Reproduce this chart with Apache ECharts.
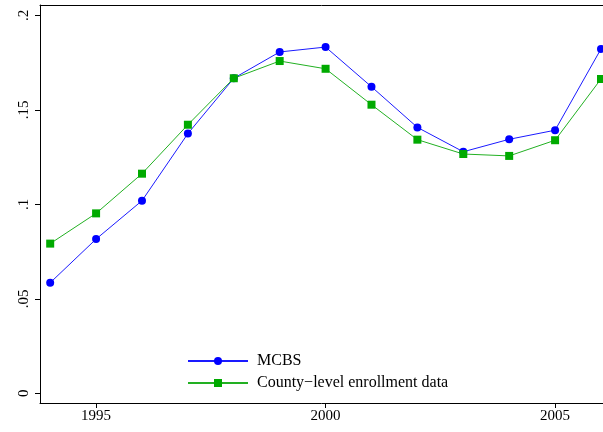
<!DOCTYPE html>
<html>
<head>
<meta charset="utf-8">
<script src="https://cdn.jsdelivr.net/npm/echarts@6/dist/echarts.min.js"></script>
<style>
  html, body { margin: 0; padding: 0; background: #fff; }
  #chart { width: 603px; height: 432px; }
</style>
</head>
<body>
<div id="chart"></div>
<script>
var years = [1994, 1995, 1996, 1997, 1998, 1999, 2000, 2001, 2002, 2003, 2004, 2005, 2006];
var mcbs = [0.0585, 0.0816, 0.1019, 0.1374, 0.1667, 0.1806, 0.1832, 0.1622, 0.1407, 0.1278, 0.1344, 0.1392, 0.1822];
var county = [0.0792, 0.0952, 0.1162, 0.1421, 0.1667, 0.1758, 0.1717, 0.1527, 0.1342, 0.1266, 0.1256, 0.1339, 0.1663];
var xTicks = [1995, 2000, 2005];
var yTicks = [0, 0.05, 0.1, 0.15, 0.2];
var yTickLabels = ['0', '.05', '.1', '.15', '.2'];

// pair years with values for the value axis
function pairs(vals) {
  return years.map(function (y, i) { return [y, vals[i]]; });
}

var serif = 'Liberation Serif';
var xMin = 1993.778, xMax = 2006.044; // plot runs off the right edge

var option = {
  animation: false,
  grid: { left: 40, top: 5, bottom: 29, right: 0 },
  legend: {
    orient: 'vertical',
    left: 187, top: 353, padding: 0,
    itemWidth: 60, itemHeight: 10, itemGap: 6,
    textStyle: { fontFamily: serif, fontSize: 16, color: '#000', lineHeight: 16, padding: [0, 0, 0, 4] },
    data: ['MCBS', 'County\u2212level enrollment data']
  },
  xAxis: [{
    type: 'value',
    min: xMin, max: xMax,
    axisLine: { onZero: false, lineStyle: { color: '#000', width: 1 } },
    axisTick: { length: 5, lineStyle: { color: '#000' }, customValues: xTicks },
    axisLabel: {
      customValues: xTicks, color: '#000', fontFamily: serif, fontSize: 15, margin: 6,
      formatter: function (v) { return String(Math.round(v)); }
    },
    splitLine: { show: false }
  }, {
    // top frame line only
    type: 'value', position: 'top',
    min: xMin, max: xMax,
    axisLine: { show: true, onZero: false, lineStyle: { color: '#000', width: 1 } },
    axisTick: { show: false }, axisLabel: { show: false }, splitLine: { show: false }
  }],
  yAxis: {
    type: 'value',
    min: -0.00513, max: 0.20545,
    axisLine: { show: true, onZero: false, lineStyle: { color: '#000', width: 1 } },
    axisTick: { show: true, length: 5, lineStyle: { color: '#000' }, customValues: yTicks },
    axisLabel: {
      customValues: yTicks, rotate: 90, color: '#000', fontFamily: serif, fontSize: 15, margin: 8,
      formatter: function (v) {
        var i = yTicks.findIndex(function (t) { return Math.abs(t - v) < 1e-6; });
        return i >= 0 ? yTickLabels[i] : '';
      }
    },
    splitLine: { show: false }
  },
  series: [
    {
      name: 'MCBS', type: 'line', data: pairs(mcbs),
      symbol: 'circle', symbolSize: 8,
      lineStyle: { color: '#1a1aff', width: 1 },
      itemStyle: { color: '#0000ff' }
    },
    {
      name: 'County\u2212level enrollment data', type: 'line', data: pairs(county),
      symbol: 'rect', symbolSize: 8,
      lineStyle: { color: '#22b022', width: 1 },
      itemStyle: { color: '#00aa00' }
    }
  ]
};

var myChart = echarts.init(document.getElementById('chart'));
myChart.setOption(option);
</script>
</body>
</html>
